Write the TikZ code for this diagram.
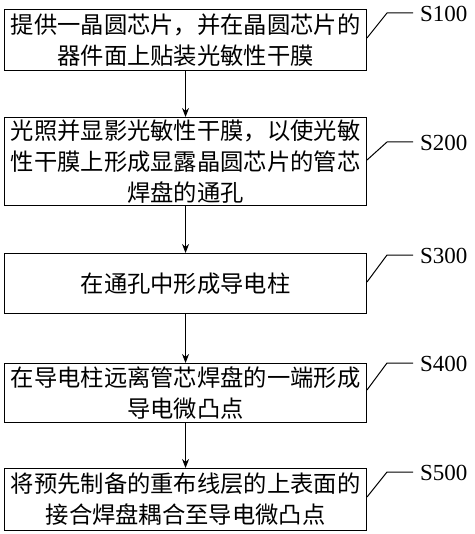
\documentclass[tikz,border=0pt]{standalone}
\usepackage{fontspec}
\setmainfont{Liberation Serif}
\newfontfamily\cjk{Noto Sans CJK SC}
\usetikzlibrary{arrows.meta}
\begin{document}
\begin{tikzpicture}[x=1pt,y=-1pt,
  stepbox/.style={draw, line width=1.1pt, minimum width=362pt, text width=360pt, align=center,
    font=\cjk\fontsize{23.3}{31}\selectfont, inner sep=0pt, anchor=north west},
  lbl/.style={font=\fontsize{23}{25}\selectfont, anchor=west, inner sep=0pt},
  conn/.style={line width=1pt, -{Stealth[length=9pt,width=7pt]}},
  lead/.style={line width=1pt}]
\useasboundingbox (0,0) rectangle (474,534);
\node[stepbox, minimum height=61pt] (b1) at (4,9) {提供一晶圆芯片，并在晶圆芯片的\\器件面上贴装光敏性干膜};
\node[stepbox, minimum height=88pt] (b2) at (4,117) {光照并显影光敏性干膜，以使光敏\\性干膜上形成显露晶圆芯片的管芯\\焊盘的通孔};
\node[stepbox, minimum height=60pt] (b3) at (4,253) {在通孔中形成导电柱};
\node[stepbox, minimum height=59pt] (b4) at (4,363) {在导电柱远离管芯焊盘的一端形成\\导电微凸点};
\node[stepbox, minimum height=62pt] (b5) at (4,468) {将预先制备的重布线层的上表面的\\接合焊盘耦合至导电微凸点};
\draw[conn] (b1.south) -- (b2.north);
\draw[conn] (b2.south) -- (b3.north);
\draw[conn] (b3.south) -- (b4.north);
\draw[conn] (b4.south) -- (b5.north);
\node[lbl] (l1) at (420,14) {S100};
\node[lbl] (l2) at (420,143) {S200};
\node[lbl] (l3) at (420,256) {S300};
\node[lbl] (l4) at (420,364) {S400};
\node[lbl] (l5) at (420,473) {S500};
\coordinate (e1) at (367,38);  \coordinate (k1) at (387,13);
\coordinate (e2) at (367,160); \coordinate (k2) at (387,142);
\coordinate (e3) at (367,282); \coordinate (k3) at (387,255);
\coordinate (e4) at (367,390); \coordinate (k4) at (387,363);
\coordinate (e5) at (367,497); \coordinate (k5) at (387,472);
\draw[lead] (e1) -- (k1) -- ([xshift=-7pt]k1 -| l1.west);
\draw[lead] (e2) -- (k2) -- ([xshift=-7pt]k2 -| l2.west);
\draw[lead] (e3) -- (k3) -- ([xshift=-7pt]k3 -| l3.west);
\draw[lead] (e4) -- (k4) -- ([xshift=-7pt]k4 -| l4.west);
\draw[lead] (e5) -- (k5) -- ([xshift=-7pt]k5 -| l5.west);
\end{tikzpicture}
\end{document}
